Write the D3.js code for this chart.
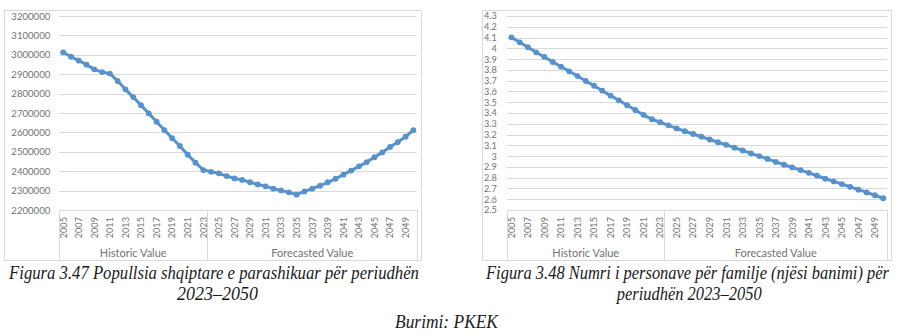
<!DOCTYPE html>
<html>
<head>
<meta charset="utf-8">
<script src="https://cdn.jsdelivr.net/npm/d3@7"></script>
<style>
  html, body { margin: 0; padding: 0; background: #fff; }
  svg { display: block; }
</style>
</head>
<body>
<svg id="fig" width="905" height="336"></svg>
<script>
// Categories: one per year, grouped into historic and forecast periods
const years = [2005, 2006, 2007, 2008, 2009, 2010, 2011, 2012, 2013, 2014,
               2015, 2016, 2017, 2018, 2019, 2020, 2021, 2022, 2023, 2024,
               2025, 2026, 2027, 2028, 2029, 2030, 2031, 2032, 2033, 2034,
               2035, 2036, 2037, 2038, 2039, 2040, 2041, 2042, 2043, 2044,
               2045, 2046, 2047, 2048, 2049, 2050];
const groupNames = ["Historic Value", "Forecasted Value"];
const groupLastYears = [2023, 2050];

// Figure 3.47 – population
const population = [3013000, 2990000, 2970000, 2949000, 2925000, 2911000, 2903000, 2865000, 2822000, 2782000,
                    2740000, 2698000, 2655000, 2612000, 2570000, 2530000, 2485000, 2444000, 2406000, 2397000,
                    2389000, 2375000, 2363000, 2355000, 2343000, 2332000, 2322000, 2310000, 2301000, 2291000,
                    2279000, 2296000, 2310000, 2325000, 2343000, 2361000, 2382000, 2403000, 2425000, 2447000,
                    2472000, 2497000, 2525000, 2550000, 2578000, 2612000];
const populationTicks = [2200000, 2300000, 2400000, 2500000, 2600000, 2700000,
                         2800000, 2900000, 3000000, 3100000, 3200000];

// Figure 3.48 – persons per household
const personsPerHousehold = [4.102, 4.056, 4.010, 3.963, 3.920, 3.873, 3.830, 3.787, 3.743, 3.697,
                             3.653, 3.607, 3.561, 3.518, 3.472, 3.428, 3.382, 3.342, 3.314, 3.286,
                             3.257, 3.231, 3.205, 3.180, 3.154, 3.129, 3.105, 3.078, 3.052, 3.026,
                             3.000, 2.974, 2.946, 2.920, 2.895, 2.870, 2.845, 2.818, 2.790, 2.766,
                             2.741, 2.715, 2.689, 2.663, 2.637, 2.609];
const householdTicks = [2.5, 2.6, 2.7, 2.8, 2.9, 3, 3.1, 3.2, 3.3, 3.4,
                        3.5, 3.6, 3.7, 3.8, 3.9, 4, 4.1, 4.2, 4.3];

const captionLeft = ["Figura 3.47 Popullsia shqiptare e parashikuar për periudhën", "2023–2050"];
const captionRight = ["Figura 3.48 Numri i personave për familje (njësi banimi) për", "periudhën 2023–2050"];
const sourceText = "Burimi: PKEK";

const labelYears = years.filter((yr, i) => i % 2 === 0);

const svg = d3.select("#fig");
const lineColor = "#5792cd";
const gridColor = "#d9d9d9";
const tickColor = "#737373";
const uiFont = "Lato, 'Open Sans', sans-serif";
const captionFont = "'Liberation Serif', 'Times New Roman', serif";

const plotTop = 16, plotBottom = 210;

// Italic serif caption line, narrowed horizontally to the given width
function captionText(parent, str, cx, y, w) {
  const t = parent.append("text")
    .attr("text-anchor", "middle")
    .attr("fill", "#1a1a1a")
    .style("font-family", captionFont).style("font-style", "italic").style("font-size", "18.5px")
    .text(str);
  const natural = t.node().getComputedTextLength();
  t.attr("transform", `translate(${cx},${y}) scale(${w / natural},1)`);
  return t;
}

function drawPanel(cfg) {
  const g = svg.append("g");

  // chart frame
  g.append("rect")
    .attr("x", cfg.frame[0] + 0.5).attr("y", cfg.frame[1] + 0.5)
    .attr("width", cfg.frame[2] - cfg.frame[0]).attr("height", cfg.frame[3] - cfg.frame[1])
    .attr("fill", "none").attr("stroke", gridColor);

  const x = d3.scaleBand().domain(years).range([cfg.left, cfg.right]);
  const y = d3.scaleLinear().domain([cfg.ticks[0], cfg.ticks[cfg.ticks.length - 1]])
    .range([plotBottom, plotTop]);

  // value axis with horizontal gridlines
  const ya = g.append("g")
    .attr("transform", `translate(${cfg.left},0)`)
    .call(d3.axisLeft(y).tickValues(cfg.ticks).tickSize(-(cfg.right - cfg.left))
      .tickPadding(cfg.tickPad).tickFormat(cfg.format));
  ya.select(".domain").remove();
  ya.selectAll(".tick line").attr("stroke", gridColor).attr("shape-rendering", "crispEdges");
  ya.selectAll(".tick text")
    .attr("fill", tickColor)
    .style("font-family", uiFont).style("font-size", cfg.yFontSize + "px");

  // category axis: rotated year labels
  const xa = g.append("g")
    .attr("transform", `translate(0,${plotBottom})`)
    .call(d3.axisBottom(x).tickValues(labelYears).tickSize(0).tickPadding(0));
  xa.select(".domain").attr("stroke", gridColor).attr("shape-rendering", "crispEdges");
  xa.selectAll(".tick text")
    .attr("transform", "rotate(-90)")
    .attr("text-anchor", "end")
    .attr("x", -7).attr("y", 0).attr("dy", "0.36em")
    .attr("fill", tickColor)
    .style("font-family", uiFont).style("font-size", "9.2px");

  // group separators and group labels
  const bounds = [cfg.left];
  groupLastYears.forEach(last => bounds.push(x(last) + x.step()));
  g.selectAll("line.sep").data(bounds).join("line")
    .attr("class", "sep")
    .attr("x1", d => Math.round(d) + 0.5).attr("x2", d => Math.round(d) + 0.5)
    .attr("y1", plotBottom).attr("y2", cfg.frame[3])
    .attr("stroke", gridColor);
  g.selectAll("text.group").data(groupNames).join("text")
    .attr("class", "group")
    .attr("x", (d, i) => (bounds[i] + bounds[i + 1]) / 2)
    .attr("y", 257)
    .attr("text-anchor", "middle")
    .attr("fill", tickColor)
    .style("font-family", uiFont).style("font-size", "11px")
    .text(d => d);

  // series line with markers
  const pts = years.map((yr, i) => ({ yr, v: cfg.values[i] }));
  const cx = d => x(d.yr) + x.bandwidth() / 2;
  g.append("path")
    .datum(pts)
    .attr("fill", "none").attr("stroke", lineColor)
    .attr("stroke-width", 3).attr("stroke-linejoin", "round")
    .attr("d", d3.line().x(cx).y(d => y(d.v)));
  g.selectAll("circle").data(pts).join("circle")
    .attr("cx", cx).attr("cy", d => y(d.v)).attr("r", 2.9)
    .attr("fill", lineColor);

  // caption
  cfg.caption.forEach((c, i) => captionText(g, cfg.captionText[i], c.x, c.y, c.w));
}

drawPanel({
  frame: [4, 10, 421, 260],
  left: 59.3, right: 417.3,
  ticks: populationTicks,
  values: population,
  format: d3.format("d"),
  tickPad: 9, yFontSize: 9.6,
  captionText: captionLeft,
  caption: [{ x: 214, y: 279, w: 410 }, { x: 217.5, y: 300, w: 81 }]
});

drawPanel({
  frame: [482, 10, 891, 260],
  left: 507.3, right: 887.3,
  ticks: householdTicks,
  values: personsPerHousehold,
  format: d => String(d),
  tickPad: 10.5, yFontSize: 9.2,
  captionText: captionRight,
  caption: [{ x: 687.5, y: 279, w: 403 }, { x: 689.2, y: 300, w: 145 }]
});

// source line
captionText(svg, sourceText, 446.5, 328, 103);
</script>
</body>
</html>
